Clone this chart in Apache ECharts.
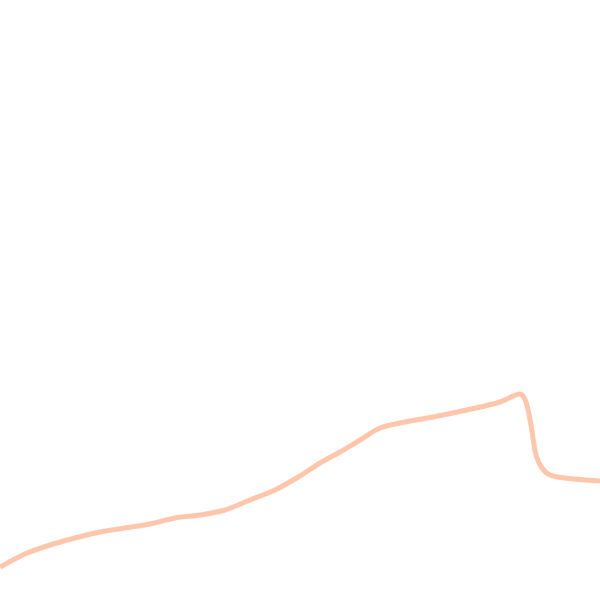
<!DOCTYPE html>
<html><head><meta charset="utf-8">
<script src="https://cdn.jsdelivr.net/npm/echarts@6/dist/echarts.min.js"></script>
<style>html,body{margin:0;padding:0;background:#fff}#c{width:600px;height:600px}</style>
</head><body><div id="c"></div>
<script>
const xValues = [0, 25, 50, 75, 100, 125, 150, 175, 200, 225, 250, 275, 300, 320, 340, 360, 380, 400, 433, 467, 500, 520, 526, 531, 536, 542, 550, 565, 600];
const yValues = [33, 46, 55, 62, 68, 72, 76, 82, 85, 90, 100, 110, 124, 137, 148, 160, 172, 177, 183, 190, 198, 206, 198, 175, 145, 132, 125, 122, 119];
const chart = echarts.init(document.getElementById('c'));
chart.setOption({
  animation: false,
  grid: {left: 0, right: 0, top: 0, bottom: 0},
  xAxis: {type: 'value', min: 0, max: 600, show: false},
  yAxis: {type: 'value', min: 0, max: 600, show: false},
  series: [{
    type: 'line',
    data: xValues.map((x, i) => [x, yValues[i]]),
    smooth: 0.3,
    symbol: 'none',
    lineStyle: {color: '#ffc6ac', width: 5}
  }]
});
</script></body></html>
